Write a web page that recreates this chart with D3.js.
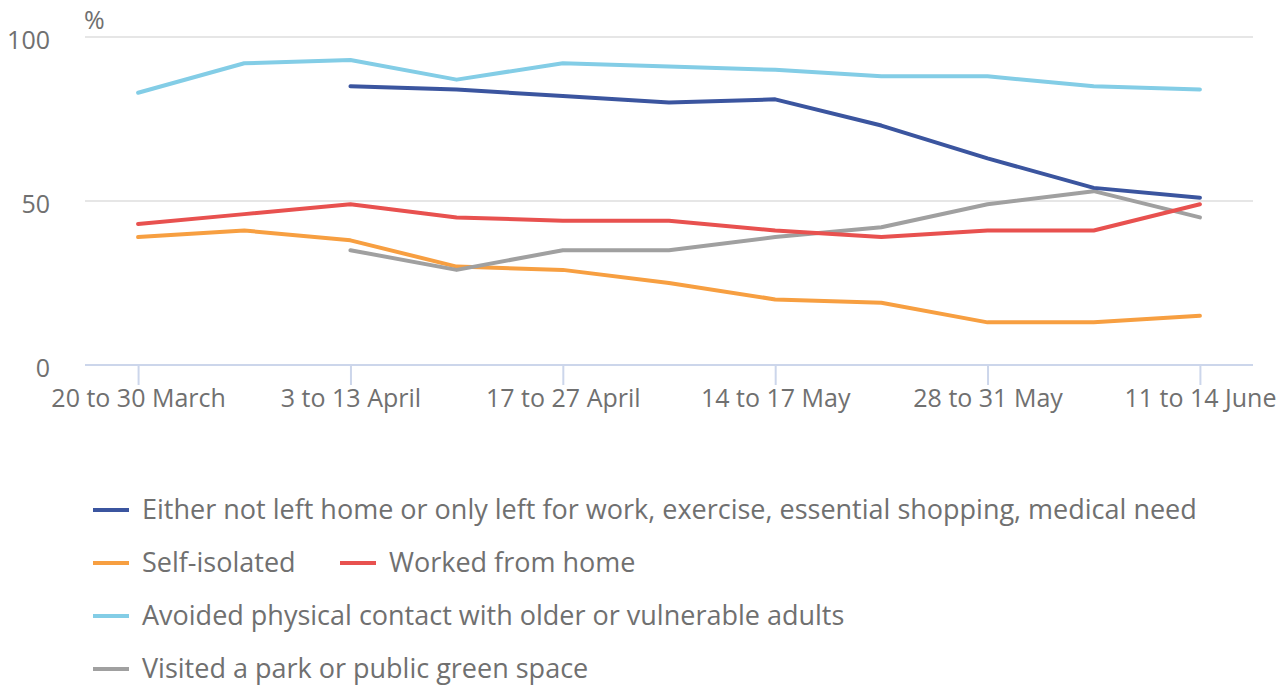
<!DOCTYPE html>
<html>
<head>
<meta charset="utf-8">
<script src="https://cdn.jsdelivr.net/npm/d3@7"></script>
<style>
  body { margin: 0; background: #fff; }
  svg text { font-family: "Open Sans", sans-serif; fill: #707070; }
</style>
</head>
<body>
<div id="chart"></div>
<script>
var width = 1285, height = 686;

// survey periods (only every other one is labelled)
var periods = ["20 to 30 March", "27 March to 6 April", "3 to 13 April", "9 to 20 April",
    "17 to 27 April", "24 April to 3 May", "14 to 17 May", "21 to 24 May",
    "28 to 31 May", "4 to 7 June", "11 to 14 June"];
var tickLabels = ["20 to 30 March", "3 to 13 April", "17 to 27 April", "14 to 17 May", "28 to 31 May", "11 to 14 June"];
var yTicks = [0, 50, 100];

var notLeftHome = [null, null, 85, 84, 82, 80, 81, 73, 63, 54, 51];
var selfIsolated = [39, 41, 38, 30, 29, 25, 20, 19, 13, 13, 15];
var workedFromHome = [43, 46, 49, 45, 44, 44, 41, 39, 41, 41, 49];
var avoidedContact = [83, 92, 93, 87, 92, 91, 90, 88, 88, 85, 84];
var visitedPark = [null, null, 35, 29, 35, 35, 39, 42, 49, 53, 45];

var series = [
    {name: "Avoided physical contact with older or vulnerable adults", color: "#83cde6", values: avoidedContact},
    {name: "Self-isolated", color: "#f79f41", values: selfIsolated},
    {name: "Visited a park or public green space", color: "#a0a0a0", values: visitedPark},
    {name: "Worked from home", color: "#e8514f", values: workedFromHome},
    {name: "Either not left home or only left for work, exercise, essential shopping, medical need", color: "#3b559f", values: notLeftHome}
];

var svg = d3.select("#chart").append("svg")
    .attr("width", width)
    .attr("height", height);

var x = d3.scalePoint().domain(periods).range([85, 1253]).padding(0.5);
var y = d3.scaleLinear().domain([0, 100]).range([365, 37]);

// gridlines
svg.append("g")
    .selectAll("line")
    .data(yTicks.filter(function(d) { return d > 0; }))
    .enter().append("line")
    .attr("x1", 85).attr("x2", 1253)
    .attr("y1", function(d) { return y(d); })
    .attr("y2", function(d) { return y(d); })
    .style("stroke", "#e6e6e6")
    .style("stroke-width", 2);

// y axis labels
var yAxis = svg.append("g")
    .attr("transform", "translate(62,3)")
    .call(d3.axisLeft(y).tickValues(yTicks).tickSize(0).tickPadding(12));
yAxis.select(".domain").remove();
yAxis.selectAll("text")
    .style("font-size", "25px")
    .style("fill", "#707070")
    .style("font-family", "'Open Sans', sans-serif")
    .attr("dy", "0.32em");

svg.append("text")
    .attr("x", 84)
    .attr("y", 29)
    .style("font-size", "25px")
    .text("%");

// x axis
var xAxis = svg.append("g")
    .attr("transform", "translate(0,365)")
    .call(d3.axisBottom(x).tickValues(tickLabels).tickSize(20).tickPadding(4).tickSizeOuter(0));
xAxis.select(".domain")
    .attr("d", "M85,0H1253")
    .style("stroke", "#ccd6eb")
    .style("stroke-width", 2);
xAxis.selectAll(".tick line")
    .style("stroke", "#ccd6eb")
    .style("stroke-width", 2);
xAxis.selectAll(".tick text")
    .style("font-size", "25px")
    .style("fill", "#707070")
    .style("font-family", "'Open Sans', sans-serif");

// lines
var line = d3.line()
    .defined(function(d) { return d !== null; })
    .x(function(d, i) { return x(periods[i]); })
    .y(function(d) { return y(d); });

svg.append("g")
    .selectAll("path")
    .data(series)
    .enter().append("path")
    .attr("d", function(d) { return line(d.values); })
    .style("fill", "none")
    .style("stroke", function(d) { return d.color; })
    .style("stroke-width", 4)
    .style("stroke-linejoin", "round")
    .style("stroke-linecap", "round");

// legend
var legendItems = [
    {s: series[4], x: 93, y: 510},
    {s: series[1], x: 93, y: 563},
    {s: series[3], x: 340, y: 563},
    {s: series[0], x: 93, y: 616},
    {s: series[2], x: 93, y: 669}
];

var legend = svg.append("g")
    .selectAll("g")
    .data(legendItems)
    .enter().append("g")
    .attr("transform", function(d) { return "translate(" + d.x + "," + d.y + ")"; });

legend.append("line")
    .attr("x1", 0).attr("x2", 36)
    .attr("y1", 0).attr("y2", 0)
    .style("stroke", function(d) { return d.s.color; })
    .style("stroke-width", 4);

legend.append("text")
    .attr("x", 49)
    .attr("dy", "0.35em")
    .style("font-size", "27px")
    .text(function(d) { return d.s.name; });
</script>
</body>
</html>
